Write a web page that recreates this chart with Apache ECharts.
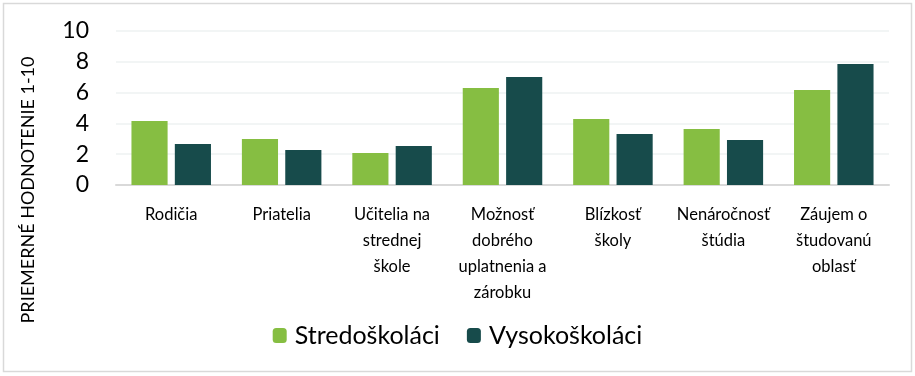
<!DOCTYPE html>
<html>
<head>
<meta charset="utf-8">
<script src="https://cdn.jsdelivr.net/npm/echarts@6/dist/echarts.min.js"></script>
<style>
  html, body { margin: 0; padding: 0; background: #fff; }
  #chart { width: 915px; height: 376px; }
</style>
</head>
<body>
<div id="chart"></div>
<script>
var categories = [
    'Rodičia',
    'Priatelia',
    'Učitelia na\nstrednej\nškole',
    'Možnosť\ndobrého\nuplatnenia a\nzárobku',
    'Blízkosť\nškoly',
    'Nenáročnosť\nštúdia',
    'Záujem o\nštudovanú\noblasť'
];
var stredoskolaci = [4.15, 2.99, 2.08, 6.30, 4.29, 3.64, 6.17];
var vysokoskolaci = [2.66, 2.27, 2.53, 7.01, 3.31, 2.92, 7.86];
var yTicks = [0, 2, 4, 6, 8, 10];

var font = "Lato, 'Open Sans', sans-serif";

var dom = document.getElementById('chart');
var myChart = echarts.init(dom);
var option = {
    animation: false,
    textStyle: { fontFamily: font },
    graphic: [
        {
            type: 'rect',
            shape: { x: 3.5, y: 3.5, width: 908, height: 368 },
            style: { fill: 'none', stroke: '#d9d9d9', lineWidth: 1.5 }
        },
        {
            type: 'text',
            x: 28,
            y: 190,
            rotation: Math.PI / 2,
            style: {
                text: 'PRIEMERNÉ HODNOTENIE 1-10',
                font: "18px " + font,
                fill: '#000',
                align: 'center',
                verticalAlign: 'middle'
            }
        }
    ],
    legend: {
        bottom: 23,
        left: 'center',
        itemWidth: 14,
        itemHeight: 15,
        itemGap: 27,
        textStyle: { fontSize: 25, color: '#000', fontFamily: font, padding: [0, 0, 0, 3] },
        data: ['Stredoškoláci', 'Vysokoškoláci']
    },
    grid: { left: 116, right: 26, top: 31, bottom: 191, containLabel: false },
    xAxis: {
        type: 'category',
        data: categories,
        axisLine: { lineStyle: { color: '#d9d9d9', width: 2 } },
        axisTick: { show: false },
        axisLabel: {
            interval: 0,
            fontSize: 16.5,
            lineHeight: 26,
            color: '#000',
            margin: 17,
            fontFamily: font
        }
    },
    yAxis: {
        type: 'value',
        min: 0,
        max: 10,
        interval: 2,
        axisLine: { show: false },
        axisTick: { show: false },
        splitLine: { lineStyle: { color: '#eef2f2', width: 1.5 } },
        axisLabel: {
            fontSize: 23,
            color: '#000',
            margin: 27,
            fontFamily: font,
            formatter: function (v) { return yTicks.indexOf(v) >= 0 ? String(v) : ''; }
        }
    },
    series: [
        {
            name: 'Stredoškoláci',
            type: 'bar',
            data: stredoskolaci,
            itemStyle: { color: '#86be42' },
            barGap: '20%',
            barCategoryGap: '28%'
        },
        {
            name: 'Vysokoškoláci',
            type: 'bar',
            data: vysokoskolaci,
            itemStyle: { color: '#174b4b' }
        }
    ]
};
myChart.setOption(option);
</script>
</body>
</html>
